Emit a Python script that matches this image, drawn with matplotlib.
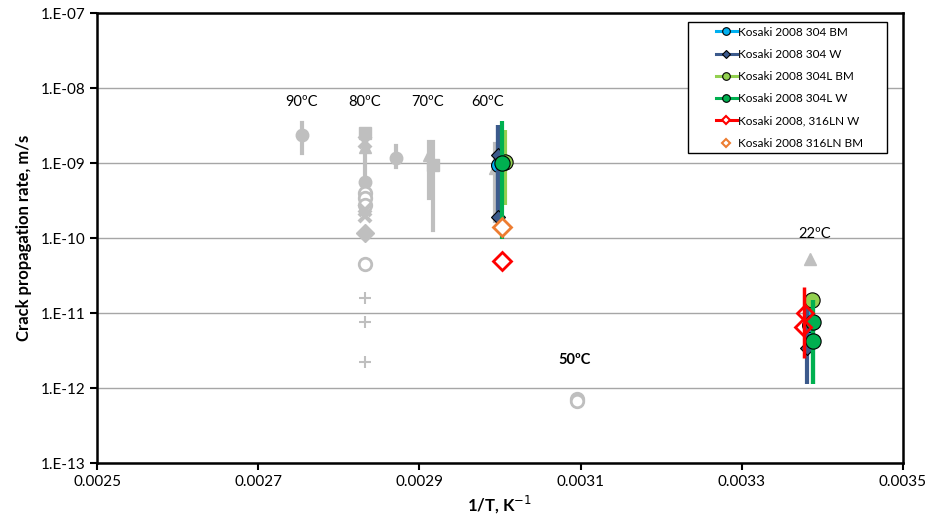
import numpy as np
import matplotlib.pyplot as plt
from matplotlib.patches import Rectangle
from matplotlib.ticker import FixedLocator, FixedFormatter

plt.rcParams['font.family'] = ['Lato', 'DejaVu Sans']

# gray background data (other references): x, y, err low, err high, marker, filled
gray_x = [0.002754, 0.002832, 0.002832, 0.002832, 0.002832, 0.002832, 0.002832, 0.002832,
          0.002832, 0.002832, 0.002832, 0.002832, 0.002832, 0.002832, 0.002832,
          0.002871, 0.002912, 0.002917, 0.002994, 0.003385, 0.003095, 0.003095]
gray_y = [2.4e-9, 2.5e-9, 1.9e-9, 1.65e-9, 5.6e-10, 4.0e-10, 3.4e-10, 2.8e-10,
          2.4e-10, 2.0e-10, 1.17e-10, 4.5e-11, 1.6e-11, 7.6e-12, 2.2e-12,
          1.17e-9, 1.27e-9, 9.4e-10, 8.6e-10, 5.2e-11, 7.2e-13, 6.8e-13]
gray_lo = [1.35e-9, None, None, 5.5e-10, None, None, None, None,
           None, None, None, None, None, None, None,
           8.8e-10, 3.4e-10, 1.3e-10, 1.7e-10, None, None, None]
gray_hi = [3.4e-9, None, None, 2.6e-9, None, None, None, None,
           None, None, None, None, None, None, None,
           1.7e-9, 1.9e-9, 1.9e-9, 1.8e-9, None, None, None]
gray_mk = ['o', 's', 'x', '^', 'o', 'o', 'o', 'o', 'x', 'x', 'D', 'o', '+', '+', '+',
           'o', '^', 's', '^', '^', 'o', 'o']
gray_fill = [True, True, True, True, True, False, False, False, True, True, True, False,
             True, True, True, True, True, True, True, True, False, False]

# Kosaki 2008 series
bm304_x = [0.002998, 0.003383]
bm304_y = [9.5e-10, 7.0e-12]
bm304_lo = [6.0e-10, 3.0e-12]
bm304_hi = [1.5e-9, 1.2e-11]

w304_x = [0.002997, 0.002997, 0.003381]
w304_y = [1.3e-9, 1.9e-10, 3.4e-12]
w304_lo = [1.7e-10, 1.7e-10, 1.15e-12]
w304_hi = [3.2e-9, 3.2e-9, 1.5e-11]

bm304L_x = [0.003006, 0.003387]
bm304L_y = [1.02e-9, 1.5e-11]
bm304L_lo = [2.8e-10, 1.0e-11]
bm304L_hi = [2.8e-9, 1.5e-11]

w304L_x = [0.003002, 0.003389, 0.003389]
w304L_y = [1.0e-9, 7.5e-12, 4.3e-12]
w304L_lo = [9.7e-11, 1.15e-12, 1.15e-12]
w304L_hi = [3.6e-9, 1.5e-11, 1.5e-11]

w316LN_x = [0.003378, 0.003376]
w316LN_y = [1.0e-11, 6.6e-12]
w316LN_lo = [2.5e-12]
w316LN_hi = [2.2e-11]
w316LN_extra_x = [0.003002]
w316LN_extra_y = [4.9e-11]

bm316LN_x = [0.003002]
bm316LN_y = [1.4e-10]

temp_labels = ['90ºC', '80ºC', '70ºC', '60ºC', '22ºC', '50ºC']
temp_x = [0.002754, 0.002832, 0.002910, 0.002985, 0.003391, 0.003093]
temp_y = [6.5e-9, 6.5e-9, 6.5e-9, 6.5e-9, 1.13e-10, 2.36e-12]
temp_bold = [False, False, False, False, False, True]

fig = plt.figure(figsize=(9.25, 5.25), dpi=100)
ax = fig.add_axes([0.105, 0.118, 0.871, 0.857])

gray = '#bfbfbf'
for i in range(len(gray_x)):
    if gray_lo[i] is not None:
        ax.plot([gray_x[i], gray_x[i]], [gray_lo[i], gray_hi[i]], color=gray, lw=3, zorder=2)
    if gray_mk[i] in ('x', '+'):
        ax.plot(gray_x[i], gray_y[i], marker=gray_mk[i], color=gray, ms=9,
                mew=1.5 if gray_mk[i] == '+' else 3, ls='none', zorder=2)
    elif gray_fill[i]:
        ax.plot(gray_x[i], gray_y[i], marker=gray_mk[i], color=gray, ms=9,
                mec=gray, ls='none', zorder=2)
    else:
        ax.plot(gray_x[i], gray_y[i], marker=gray_mk[i], mfc='white', mec=gray, ms=9,
                mew=2, ls='none', zorder=2)


def series(x, y, lo, hi, color, marker, ms, lms, label, z, mfc=None, mec='black', mew=0.8):
    for xi, l, h in zip(x, lo, hi):
        ax.plot([xi, xi], [l, h], color=color, lw=3, zorder=z, solid_capstyle='butt')
    ax.plot(x, y, ls='none', marker=marker, ms=ms, mfc=mfc or color, mec=mec,
            mew=mew, zorder=z + 0.5)
    ax.plot([], [], color=color, lw=2.2, marker=marker, ms=lms, mfc=mfc or color,
            mec=mec, mew=mew, label=label)


series(bm304_x, bm304_y, bm304_lo, bm304_hi, '#00b0f0', 'o', 10, 5.5, 'Kosaki 2008 304 BM', 3)
series(w304_x, w304_y, w304_lo, w304_hi, '#3c5a8c', 'D', 7, 4, 'Kosaki 2008 304 W', 4)
series(bm304L_x, bm304L_y, bm304L_lo, bm304L_hi, '#92d050', 'o', 11, 5.5, 'Kosaki 2008 304L BM', 5)
series(w304L_x, w304L_y, w304L_lo, w304L_hi, '#00b050', 'o', 11, 5.5, 'Kosaki 2008 304L W', 6)

# 316LN W
ax.plot([0.003377, 0.003377], [w316LN_lo[0], w316LN_hi[0]], color='red', lw=2.5, zorder=7,
        solid_capstyle='butt')
ax.plot(w316LN_x, w316LN_y, ls='none', marker='D', ms=8, mfc='none', mec='red', mew=2, zorder=7.5)
ax.plot(w316LN_extra_x, w316LN_extra_y, ls='none', marker='D', ms=9, mfc='white', mec='red',
        mew=2, zorder=7.5)
ax.plot([], [], color='red', lw=2.2, marker='D', ms=4, mfc='white', mec='red', mew=1.5,
        label='Kosaki 2008, 316LN W')

ax.plot(bm316LN_x, bm316LN_y, ls='none', marker='D', ms=9, mfc='white', mec='#ed7d31',
        mew=2, zorder=8)
ax.plot([], [], ls='none', marker='D', ms=4.5, mfc='white', mec='#ed7d31', mew=1.5,
        label='Kosaki 2008 316LN BM')

for t, x, y, b in zip(temp_labels, temp_x, temp_y, temp_bold):
    ax.text(x, y, t, ha='center', va='center', fontsize=10.5,
            fontweight='bold' if b else 'normal')

ax.set_yscale('log')
ax.set_ylim(1e-13, 1e-7)
ax.set_xlim(0.0025, 0.0035)
yt = [1e-13, 1e-12, 1e-11, 1e-10, 1e-9, 1e-8, 1e-7]
ax.yaxis.set_major_locator(FixedLocator(yt))
ax.yaxis.set_major_formatter(FixedFormatter(['1.E-13', '1.E-12', '1.E-11', '1.E-10',
                                             '1.E-09', '1.E-08', '1.E-07']))
ax.yaxis.set_minor_locator(FixedLocator([]))
ax.set_xticks([0.0025, 0.0027, 0.0029, 0.0031, 0.0033, 0.0035])
ax.set_xticklabels(['0.0025', '0.0027', '0.0029', '0.0031', '0.0033', '0.0035'])
ax.tick_params(labelsize=11, width=1.5, length=5, direction='out')
ax.grid(axis='y', color='#a6a6a6', lw=1)
ax.set_axisbelow(True)
for s in ax.spines.values():
    s.set_linewidth(1.8)

ax.set_xlabel('1/T, K$^{-1}$', fontsize=12, fontweight='bold', labelpad=4)
ax.set_ylabel('Crack propagation rate, m/s', fontsize=12, fontweight='bold', labelpad=6)

# legend box drawn as a white frame, entries placed inside it
ax.add_patch(Rectangle((0.733, 0.689), 0.248, 0.291, transform=ax.transAxes,
                       facecolor='white', edgecolor='black', lw=1.0, zorder=9))
leg = ax.legend(loc='upper left', bbox_to_anchor=(0.768, 0.97), fontsize=8.5,
                frameon=False, handlelength=1.75, labelspacing=0.95, borderpad=0,
                handletextpad=0.1, borderaxespad=0)
leg.set_zorder(10)

fig.savefig('out.png', dpi=100)
